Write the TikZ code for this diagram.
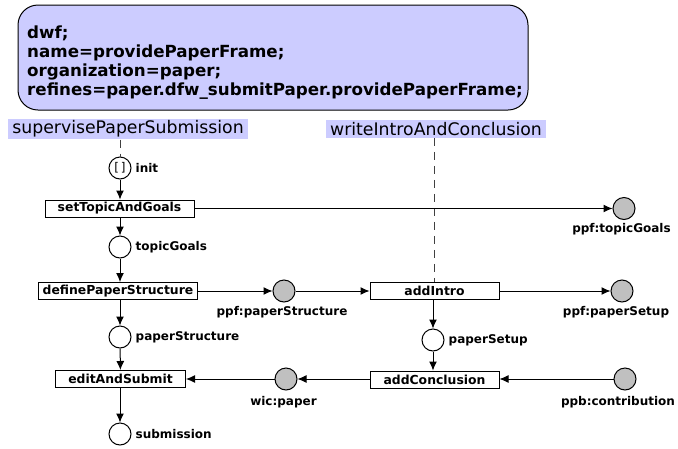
\documentclass[tikz,border=0pt]{standalone}
\usepackage{fontspec}
\setmainfont{DejaVu Sans}
\usetikzlibrary{arrows.meta,positioning}

\definecolor{lanefill}{RGB}{204,204,255}
\definecolor{extfill}{RGB}{192,192,192}

\tikzset{
  headbox/.style={draw, fill=lanefill, line width=1pt, rounded corners=20pt},
  headtext/.style={inner sep=0pt, align=left, font=\fontsize{16.7}{19}\selectfont\bfseries},
  lane/.style={fill=lanefill, inner xsep=4pt, inner ysep=2pt, font=\fontsize{17.3}{20}\selectfont},
  trans/.style={draw, line width=1pt, fill=white, minimum width=129pt,
    minimum height=17pt, inner xsep=4pt, inner ysep=0pt, font=\fontsize{12.4}{14}\selectfont\bfseries},
  place/.style={draw, circle, line width=1pt, fill=white, minimum size=22pt, inner sep=0pt},
  extplace/.style={place, fill=extfill},
  plabel/.style={font=\fontsize{12}{14}\selectfont\bfseries, inner sep=2pt},
  flow/.style={line width=1pt, -{Latex[length=9pt,width=8pt]}},
  laneline/.style={line width=1pt, black!75, dash pattern=on 8pt off 6pt},
}

\begin{document}
\begin{tikzpicture}[x=1pt, y=-1pt]
  \useasboundingbox (0,0) rectangle (678,448);

  % header of the workflow
  \draw[headbox] (18,5) rectangle (528,110);
  \node[headtext, anchor=west] (head) at (27,63)
    {dwf;\\name=providePaperFrame;\\organization=paper;\\refines=paper.dfw\_submitPaper.providePaperFrame;};

  % swimlane titles
  \node[lane] (laneA) at (128,129) {supervisePaperSubmission};
  \node[lane] (laneB) at (436,129) {writeIntroAndConclusion};

  % left lane
  \node[place] (init) at (120,168) {\fontsize{12}{12}\selectfont[\,]};
  \node[plabel, right=2pt of init] (initL) {init};
  \node[trans, minimum width=149pt] (setTopic) at (119.5,208.5) {setTopicAndGoals};
  \node[place] (topicGoals) at (120,247) {};
  \node[plabel, right=2pt of topicGoals] (topicGoalsL) {topicGoals};
  \node[trans, minimum width=158pt] (defStruct) at (118,291) {definePaperStructure};
  \node[place] (paperStruct) at (120,337) {};
  \node[plabel, right=2pt of paperStruct] (paperStructL) {paperStructure};
  \node[trans, minimum width=130pt] (editSubmit) at (120.5,379) {editAndSubmit};
  \node[place] (submission) at (120,434) {};
  \node[plabel, right=2pt of submission] (submissionL) {submission};

  % right lane
  \node[trans] (addIntro) at (434.5,291) {addIntro};
  \node[place] (paperSetup) at (433,340) {};
  \node[plabel, right=2pt of paperSetup] (paperSetupL) {paperSetup};
  \node[trans] (addConcl) at (434.5,379.5) {addConclusion};

  % places shared with other workflows
  \node[extplace] (ppfTopic) at (624,208.5) {};
  \node[plabel] (ppfTopicL) at (621.5,229) {ppf:topicGoals};
  \node[extplace] (ppfStruct) at (284,291) {};
  \node[plabel] (ppfStructL) at (282,312) {ppf:paperStructure};
  \node[extplace] (ppfSetup) at (622,291) {};
  \node[plabel] (ppfSetupL) at (616,312) {ppf:paperSetup};
  \node[extplace] (wicPaper) at (286,379) {};
  \node[plabel] (wicPaperL) at (283.5,402) {wic:paper};
  \node[extplace] (ppbContr) at (625,379) {};
  \node[plabel] (ppbContrL) at (618,402) {ppb:contribution};

  % lane lines
  \draw[laneline] (init |- laneA.south) -- (init);
  \draw[laneline] (addIntro.north |- laneB.south) -- (addIntro);

  % flows
  \draw[flow] (init) -- (init |- setTopic.north);
  \draw[flow] (topicGoals |- setTopic.south) -- (topicGoals);
  \draw[flow] (setTopic.east |- ppfTopic) -- (ppfTopic);
  \draw[flow] (topicGoals) -- (topicGoals |- defStruct.north);
  \draw[flow] (defStruct) -- (ppfStruct);
  \draw[flow] (paperStruct |- defStruct.south) -- (paperStruct);
  \draw[flow] (paperStruct) -- (editSubmit);
  \draw[flow] (editSubmit.south -| submission) -- (submission);
  \draw[flow] (ppfStruct) -- (addIntro);
  \draw[flow] (addIntro) -- (ppfSetup);
  \draw[flow] (paperSetup |- addIntro.south) -- (paperSetup);
  \draw[flow] (paperSetup) -- (paperSetup |- addConcl.north);
  \draw[flow] (addConcl.west |- wicPaper) -- (wicPaper);
  \draw[flow] (wicPaper) -- (editSubmit.east |- wicPaper);
  \draw[flow] (ppbContr) -- (addConcl.east |- ppbContr);
\end{tikzpicture}
\end{document}
